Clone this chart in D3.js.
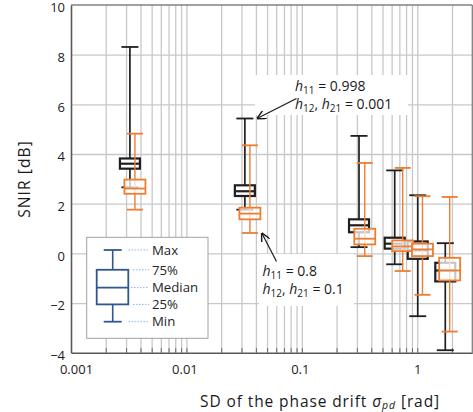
<!DOCTYPE html>
<html><head><meta charset="utf-8">
<script src="https://cdn.jsdelivr.net/npm/d3@7"></script>
<style>
html,body{margin:0;padding:0;background:#fff;}
svg{display:block;font-family:"Open Sans",sans-serif;}
</style></head>
<body><svg id="c" width="473" height="412"></svg>
<script>
// ---- data ----
const blackX = [0.00324, 0.0321, 0.313, 0.638, 1.01, 1.75];
const blackMin = [2.66, 1.76, 0.25, -0.44, -2.53, -3.9];
const blackQ1 = [3.41, 2.31, 0.85, 0.19, -0.22, -1.13];
const blackMed = [3.61, 2.50, 1.13, 0.39, 0.12, -0.69];
const blackQ3 = [3.82, 2.74, 1.37, 0.63, 0.48, -0.38];
const blackMax = [8.31, 5.43, 4.73, 3.34, 2.34, 0.41];

const orangeX = [0.00358, 0.0355, 0.351, 0.748, 1.11, 1.91];
const orangeMin = [1.76, 0.82, -0.11, -0.71, -1.67, -3.15];
const orangeQ1 = [2.40, 1.37, 0.36, 0.09, -0.11, -1.09];
const orangeMed = [2.61, 1.60, 0.59, 0.28, 0.16, -0.69];
const orangeQ3 = [2.97, 1.84, 0.99, 0.52, 0.39, -0.18];
const orangeMax = [4.82, 4.35, 3.64, 3.44, 2.30, 2.27];

const xTickLabels = [0.001, 0.01, 0.1, 1];
const yTickLabels = [-4, -2, 0, 2, 4, 6, 8, 10];
const legendLabels = ["Max", "75%", "Median", "25%", "Min"];
const legendValues = [1.6, 0.8, 0.08, -0.6, -1.3]; // legend icon levels (arbitrary units)

// ---- layout ----
const svg = d3.select("#c");
const L = 71, R = 472.3, T = 5, B = 352.7;
const x = d3.scaleLog().domain([0.001, 3]).range([L, R]);
const y = d3.scaleLinear().domain([-4, 10]).range([B, T]);

// minor/major x grid values
const gridX = [];
[0.001, 0.01, 0.1, 1].forEach(d => { for (let k = 1; k <= 9; k++) { const v = d * k; if (v < 3) gridX.push(v); } });
const gridXU = Array.from(new Set(gridX.map(v => +v.toPrecision(3))));

// grid
const grid = svg.append("g");
grid.append("g").attr("transform", `translate(0,${B})`)
  .call(d3.axisBottom(x).tickValues(gridXU.filter(v => v > 0.001)).tickSize(-(B - T)).tickFormat(""))
  .call(g => g.select(".domain").remove())
  .call(g => g.selectAll("line").attr("stroke", "#c8c8c8").attr("stroke-width", 1.3));
grid.append("g").attr("transform", `translate(${L},0)`)
  .call(d3.axisLeft(y).tickValues(yTickLabels.filter(v => v > -4 && v < 10)).tickSize(-(R - L)).tickFormat(""))
  .call(g => g.select(".domain").remove())
  .call(g => g.selectAll("line").attr("stroke", "#c8c8c8").attr("stroke-width", 1.3));

// frame top/right
svg.append("line").attr("x1", L).attr("x2", R).attr("y1", T).attr("y2", T).attr("stroke", "#808080").attr("stroke-width", 1.3);
svg.append("line").attr("x1", R).attr("x2", R).attr("y1", T).attr("y2", B).attr("stroke", "#808080").attr("stroke-width", 1.3);

// white annotation backgrounds
svg.append("rect").attr("x", 255).attr("y", 75).attr("width", 153).attr("height", 40).attr("fill", "#fff");
svg.append("rect").attr("x", 259).attr("y", 254).attr("width", 95).attr("height", 52).attr("fill", "#fff");

// small inner ticks on x axis
svg.append("g").attr("transform", `translate(0,${B})`)
  .call(d3.axisBottom(x).tickValues(gridXU.filter(v => v > 0.001)).tickSize(-4.5).tickFormat(""))
  .call(g => g.select(".domain").remove())
  .call(g => g.selectAll("line").attr("stroke", "#666").attr("stroke-width", 1));

// axes
const xAx = svg.append("g").attr("transform", `translate(0,${B})`)
  .call(d3.axisBottom(x).tickValues(xTickLabels).tickSize(0).tickPadding(12)
    .tickFormat(d => d >= 1 ? d3.format("d")(d) : String(d)));
xAx.select(".domain").attr("stroke", "#595959").attr("stroke-width", 1.6);
xAx.selectAll("text").attr("font-size", 13).attr("fill", "#1a1a1a").attr("font-family", "Open Sans")
  .attr("dx", d => d === 0.001 ? 5 : (d === 1 ? 0 : -2));
const yAx = svg.append("g").attr("transform", `translate(${L},0)`)
  .call(d3.axisLeft(y).tickValues(yTickLabels).tickSize(0).tickPadding(6));
yAx.select(".domain").attr("stroke", "#595959").attr("stroke-width", 1.6);
yAx.selectAll("text").attr("font-size", 13).attr("fill", "#1a1a1a").attr("font-family", "Open Sans")
  .attr("dy", "0.52em");

// boxplots
function drawBoxes(xs, mins, q1s, meds, q3s, maxs, color, boxW, capW, sw, ww, fillOp) {
  const g = svg.append("g");
  xs.forEach((xv, i) => {
    const cx = x(xv);
    g.append("line").attr("x1", cx).attr("x2", cx).attr("y1", y(maxs[i])).attr("y2", y(mins[i]))
      .attr("stroke", color).attr("stroke-width", ww);
    [maxs[i], mins[i]].forEach(v => g.append("line").attr("x1", cx - capW / 2).attr("x2", cx + capW / 2)
      .attr("y1", y(v)).attr("y2", y(v)).attr("stroke", color).attr("stroke-width", 1.8));
    g.append("rect").attr("x", cx - boxW / 2).attr("width", boxW)
      .attr("y", y(q3s[i])).attr("height", y(q1s[i]) - y(q3s[i]))
      .attr("fill", "#fff").attr("fill-opacity", fillOp).attr("stroke", color).attr("stroke-width", sw);
    g.append("line").attr("x1", cx - boxW / 2).attr("x2", cx + boxW / 2)
      .attr("y1", y(meds[i])).attr("y2", y(meds[i])).attr("stroke", color).attr("stroke-width", sw);
  });
}
drawBoxes(blackX, blackMin, blackQ1, blackMed, blackQ3, blackMax, "#1f1f1f", 20, 17, 2.2, 1.7, 1);
drawBoxes(orangeX, orangeMin, orangeQ1, orangeMed, orangeQ3, orangeMax, "#ed7d31", 21, 16, 1.8, 1.4, 0.75);

// legend
const lg = svg.append("g");
lg.append("rect").attr("x", 86.7).attr("y", 237.3).attr("width", 121.3).attr("height", 101)
  .attr("fill", "#fff").attr("stroke", "#a0a0a0").attr("stroke-width", 1);
const ly = d3.scaleLinear().domain([-1.3, 1.6]).range([321.7, 250]);
const lc = "#2f5597", lx = 112.7;
lg.append("line").attr("x1", lx).attr("x2", lx).attr("y1", ly(legendValues[0])).attr("y2", ly(legendValues[4])).attr("stroke", lc).attr("stroke-width", 1.6);
[legendValues[0], legendValues[4]].forEach(v => lg.append("line").attr("x1", lx - 9).attr("x2", lx + 9).attr("y1", ly(v)).attr("y2", ly(v)).attr("stroke", lc).attr("stroke-width", 1.8));
lg.append("rect").attr("x", 96.7).attr("width", 31.6).attr("y", ly(legendValues[1])).attr("height", ly(legendValues[3]) - ly(legendValues[1]))
  .attr("fill", "#fff").attr("stroke", lc).attr("stroke-width", 1.8);
lg.append("line").attr("x1", 96.7).attr("x2", 128.3).attr("y1", ly(legendValues[2])).attr("y2", ly(legendValues[2])).attr("stroke", lc).attr("stroke-width", 1.8);
const dashStart = [128.5, 133, 131, 133, 128.5];
legendLabels.forEach((t, i) => {
  const yy = ly(legendValues[i]);
  lg.append("line").attr("x1", dashStart[i]).attr("x2", 149).attr("y1", yy).attr("y2", yy)
    .attr("stroke", "#8eb4e3").attr("stroke-width", 1).attr("stroke-dasharray", "1.5,1.5");
  lg.append("text").attr("x", 152).attr("y", yy).attr("dy", "0.36em").attr("font-size", 13.2).attr("fill", "#262626").text(t);
});

// annotations
svg.append("defs").append("marker").attr("id", "arr").attr("viewBox", "0 0 10 10").attr("refX", 9).attr("refY", 5)
  .attr("markerWidth", 9).attr("markerHeight", 9).attr("markerUnits", "userSpaceOnUse").attr("orient", "auto")
  .append("path").attr("d", "M0,0 L10,5 L0,10").attr("fill", "none").attr("stroke", "#1a1a1a").attr("stroke-width", 1.6);
svg.append("line").attr("x1", 296.5).attr("y1", 98.5).attr("x2", 257.5).attr("y2", 118.3)
  .attr("stroke", "#1a1a1a").attr("stroke-width", 1.2).attr("marker-end", "url(#arr)");
svg.append("line").attr("x1", 276.5).attr("y1", 261.5).attr("x2", 262).attr("y2", 233.5)
  .attr("stroke", "#1a1a1a").attr("stroke-width", 1.2).attr("marker-end", "url(#arr)");

function hText(xp, yp, parts) {
  const t = svg.append("text").attr("x", xp).attr("y", yp).attr("font-size", 14).attr("fill", "#1a1a1a");
  parts.forEach(p => {
    const s = t.append("tspan").text(p.t);
    if (p.i) s.attr("font-style", "italic");
    if (p.sub) s.attr("font-size", 10).attr("baseline-shift", "-28%");
  });
}
hText(295, 91, [{t: "h", i: 1}, {t: "11", sub: 1}, {t: " = 0.998"}]);
hText(295, 108.5, [{t: "h", i: 1}, {t: "12", sub: 1}, {t: ", "}, {t: "h", i: 1}, {t: "21", sub: 1}, {t: " = 0.001"}]);
hText(262.5, 276, [{t: "h", i: 1}, {t: "11", sub: 1}, {t: " = 0.8"}]);
hText(262.5, 294, [{t: "h", i: 1}, {t: "12", sub: 1}, {t: ", "}, {t: "h", i: 1}, {t: "21", sub: 1}, {t: " = 0.1"}]);

// axis titles
svg.append("text").attr("transform", "translate(30,179) rotate(-90)").attr("text-anchor", "middle")
  .attr("font-size", 15.5).attr("letter-spacing", 1.1).attr("fill", "#1a1a1a").text("SNIR [dB]");
const xt = svg.append("text").attr("x", 200).attr("y", 406.5).attr("font-size", 15.5).attr("letter-spacing", 0.9).attr("fill", "#1a1a1a");
xt.append("tspan").text("SD of the phase drift  ");
xt.append("tspan").attr("font-style", "italic").text("σ");
xt.append("tspan").attr("font-style", "italic").attr("font-size", 10.5).attr("baseline-shift", "-18%").text("pd");
xt.append("tspan").text("  [rad]");
</script></body></html>
